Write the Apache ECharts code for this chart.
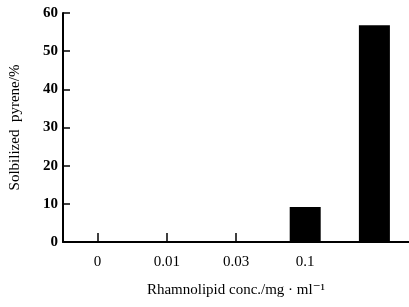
<!DOCTYPE html>
<html>
<head>
<meta charset="utf-8">
<script src="https://cdn.jsdelivr.net/npm/echarts@6/dist/echarts.min.js"></script>
<style>
  html, body { margin: 0; padding: 0; background: #fff; }
  #chart { width: 409px; height: 307px; }
</style>
</head>
<body>
<div id="chart"></div>
<script>
// concentrations (the last label is blank in the original)
var categories = ['0', '0.01', '0.03', '0.1', ''];
var solubilized = [0, 0, 0, 9.2, 56.8];
var yTicks = [0, 10, 20, 30, 40, 50, 60];

var font = '"Liberation Serif", "DejaVu Serif", serif';
var chart = echarts.init(document.getElementById('chart'));
chart.setOption({
  animation: false,
  grid: { left: 55, right: 0, top: 13, bottom: 65 },
  xAxis: {
    type: 'category',
    data: categories,
    name: 'Rhamnolipid conc./mg · ml⁻¹',
    nameLocation: 'middle',
    nameGap: 41,
    nameTextStyle: { color: '#000', fontFamily: font, fontSize: 15 },
    axisLine: { lineStyle: { color: '#000', width: 2 } },
    axisTick: { show: true, alignWithLabel: true, inside: true, length: 9, lineStyle: { color: '#000', width: 1.5 } },
    axisLabel: { color: '#000', fontFamily: font, fontSize: 15, margin: 13 }
  },
  yAxis: {
    type: 'value',
    min: yTicks[0],
    max: yTicks[yTicks.length - 1],
    interval: 10,
    name: 'Solbilized  pyrene/%',
    nameLocation: 'middle',
    nameGap: 40,
    nameTextStyle: { color: '#000', fontFamily: font, fontSize: 15 },
    splitLine: { show: false },
    axisLine: { show: true, lineStyle: { color: '#000', width: 2 } },
    axisTick: { show: true, inside: true, length: 7, lineStyle: { color: '#000', width: 1.5 } },
    axisLabel: { color: '#000', fontFamily: font, fontSize: 15, fontWeight: 'bold', margin: 5 }
  },
  series: [{
    type: 'bar',
    data: solubilized,
    barWidth: 31,
    itemStyle: { color: '#000' }
  }]
});
</script>
</body>
</html>
